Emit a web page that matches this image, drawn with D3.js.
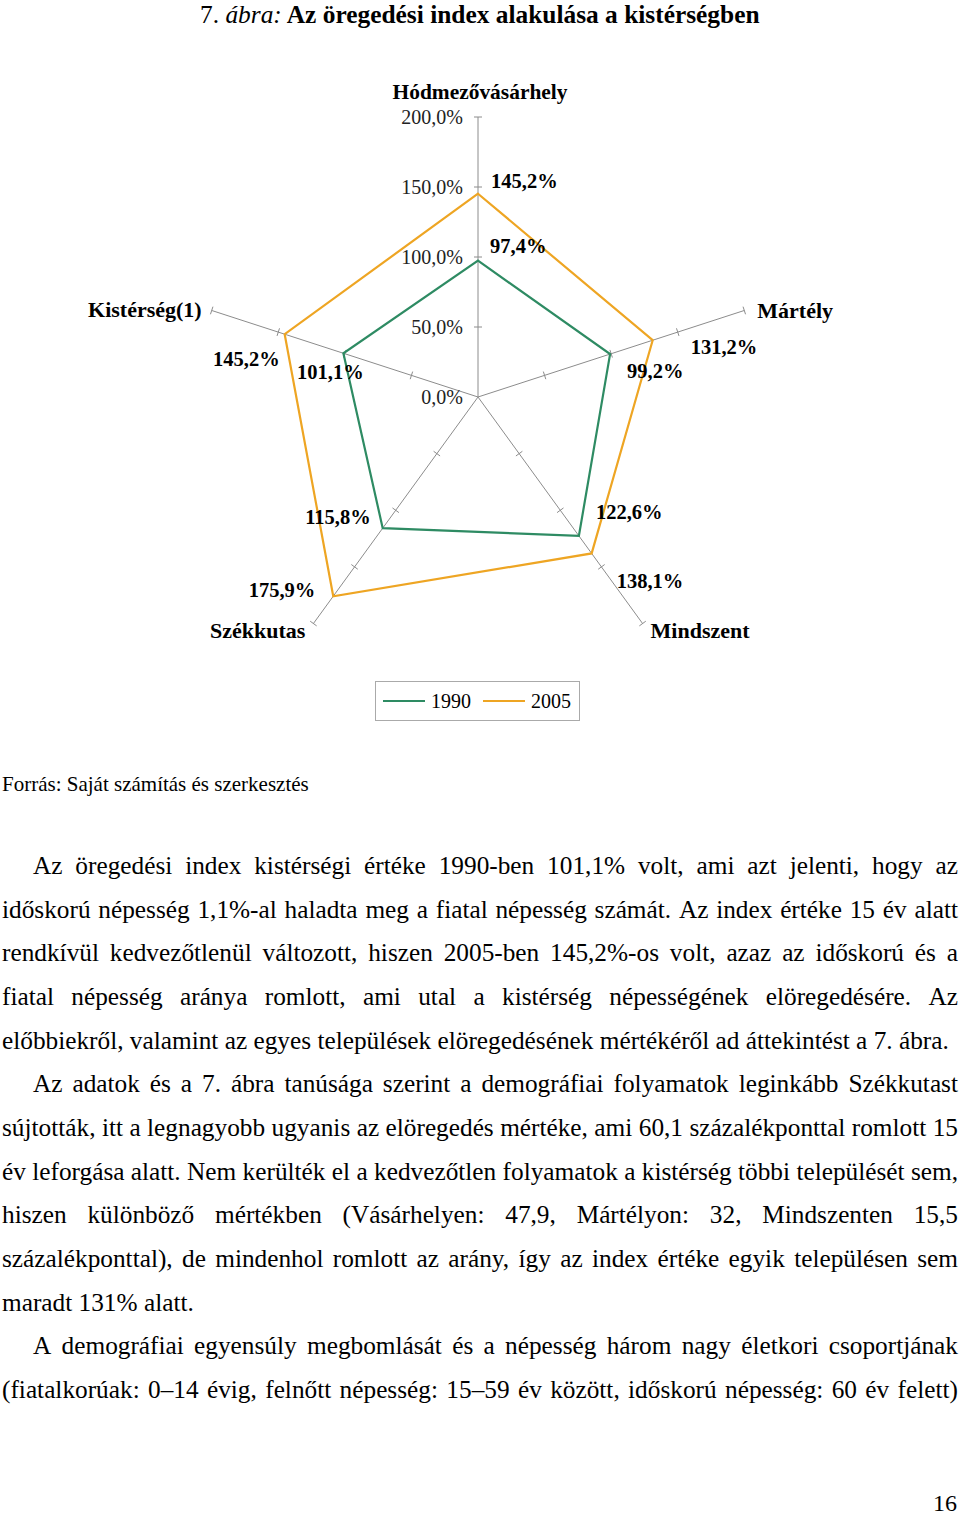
<!DOCTYPE html>
<html><head><meta charset="utf-8">
<script src="https://cdn.jsdelivr.net/npm/d3@7"></script>
<style>body{margin:0;background:#fff}svg{display:block}text{font-family:"Liberation Serif","Times New Roman",serif}</style>
</head><body>
<script>
const categories = ["Hódmezővásárhely","Mártély","Mindszent","Székkutas","Kistérség(1)"];
const series1990 = [97.4, 99.2, 122.6, 115.8, 101.1];
const series2005 = [145.2, 131.2, 138.1, 175.9, 145.2];
const seriesNames = ["1990","2005"];
const tickValues = [0,50,100,150,200];
const tickLabels = ["0,0%","50,0%","100,0%","150,0%","200,0%"];
const valueLabels1990 = ["97,4%","99,2%","122,6%","115,8%","101,1%"];
const valueLabels2005 = ["145,2%","131,2%","138,1%","175,9%","145,2%"];

const paragraphs = [
 {indent:true, lines:[
  "Az öregedési index kistérségi értéke 1990-ben 101,1% volt, ami azt jelenti, hogy az",
  "időskorú népesség 1,1%-al haladta meg a fiatal népesség számát. Az index értéke 15 év alatt",
  "rendkívül kedvezőtlenül változott, hiszen 2005-ben 145,2%-os volt, azaz az időskorú és a",
  "fiatal népesség aránya romlott, ami utal a kistérség népességének elöregedésére. Az",
  "előbbiekről, valamint az egyes települések elöregedésének mértékéről ad áttekintést a 7. ábra."], last:"left"},
 {indent:true, lines:[
  "Az adatok és a 7. ábra tanúsága szerint a demográfiai folyamatok leginkább Székkutast",
  "sújtották, itt a legnagyobb ugyanis az elöregedés mértéke, ami 60,1 százalékponttal romlott 15",
  "év leforgása alatt. Nem kerülték el a kedvezőtlen folyamatok a kistérség többi települését sem,",
  "hiszen különböző mértékben (Vásárhelyen: 47,9, Mártélyon: 32, Mindszenten 15,5",
  "százalékponttal), de mindenhol romlott az arány, így az index értéke egyik településen sem",
  "maradt 131% alatt."], last:"left"},
 {indent:true, lines:[
  "A demográfiai egyensúly megbomlását és a népesség három nagy életkori csoportjának",
  "(fiatalkorúak: 0–14 évig, felnőtt népesség: 15–59 év között, időskorú népesség: 60 év felett)"], last:"justify"}
];

const W = 960, H = 1515;
const svg = d3.select("body").append("svg").attr("width",W).attr("height",H);
svg.append("rect").attr("width",W).attr("height",H).attr("fill","#fff");

// Title
const title = svg.append("text").attr("x",200).attr("y",23).attr("font-size",25.4);
title.append("tspan").text("7. ");
title.append("tspan").attr("font-style","italic").text("ábra:");
title.append("tspan").attr("font-weight","bold").text(" Az öregedési index alakulása a kistérségben");

// Radar
const cx = 478, cy = 397;
const r = d3.scaleLinear().domain([0,200]).range([0,280]);
const angle = d3.scaleLinear().domain([0,categories.length]).range([0,2*Math.PI]);
const pt = (i,v) => [cx + r(v)*Math.sin(angle(i)), cy - r(v)*Math.cos(angle(i))];
const g = svg.append("g");
const axisColor = "#8c8c8c";

categories.forEach((c,i)=>{
  const [x2,y2] = pt(i,200);
  g.append("line").attr("x1",cx).attr("y1",cy).attr("x2",x2).attr("y2",y2)
    .attr("stroke",axisColor).attr("stroke-width",1);
  const a = angle(i);
  const px = Math.cos(a), py = Math.sin(a);
  tickValues.filter(t=>t>0).forEach(t=>{
    const [tx,ty] = pt(i,t);
    g.append("line").attr("x1",tx-4*px).attr("y1",ty-4*py).attr("x2",tx+4*px).attr("y2",ty+4*py)
      .attr("stroke",axisColor).attr("stroke-width",1);
  });
});
// tick labels along the first axis
tickValues.forEach((t,k)=>{
  const [tx,ty] = pt(0,t);
  g.append("text").attr("x",tx-15).attr("y",ty+7).attr("text-anchor","end")
   .attr("font-size",20).attr("fill","#222").text(tickLabels[k]);
});

const colors = {"1990":"#2e8b63","2005":"#eea523"};
const line = d3.line();
[[series1990,"1990"],[series2005,"2005"]].forEach(([vals,name])=>{
  const pts = vals.map((v,i)=>pt(i,v));
  g.append("path").attr("d", line(pts)+"Z").attr("fill","none")
   .attr("stroke",colors[name]).attr("stroke-width",2.2).attr("stroke-linejoin","miter");
});

// value labels (offset from points)
const off1990 = [[12,-8,"start"],[17,24,"start"],[17,-17,"start"],[-12,-4,"end"],[-13,26,"middle"]];
const off2005 = [[13,-6,"start"],[38,14,"start"],[25,35,"start"],[-18,1,"end"],[-5,32,"end"]];
[[series1990,valueLabels1990,off1990],[series2005,valueLabels2005,off2005]].forEach(([vals,labs,offs])=>{
  vals.forEach((v,i)=>{
    const [x,y] = pt(i,v);
    g.append("text").attr("x",x+offs[i][0]).attr("y",y+offs[i][1]).attr("text-anchor",offs[i][2])
      .attr("font-size",20.5).attr("font-weight","bold").text(labs[i]);
  });
});

// category labels
const catOff = [[2,-18,"middle"],[13,8,"start"],[8,14,"start"],[-8,14,"end"],[-10,7,"end"]];
categories.forEach((c,i)=>{
  const [x,y] = pt(i,200);
  const t = g.append("text").attr("x",x+catOff[i][0]).attr("y",y+catOff[i][1]).attr("text-anchor",catOff[i][2])
    .attr("font-size",22).attr("font-weight","bold").text(c);
  if(i===0) t.attr("textLength",175).attr("lengthAdjust","spacingAndGlyphs");
});

// Legend
const lg = svg.append("g");
lg.append("rect").attr("x",375.5).attr("y",681.5).attr("width",204).attr("height",39)
  .attr("fill","#fff").attr("stroke","#aaa").attr("stroke-width",1);
const legX = [383,483];
seriesNames.forEach((n,k)=>{
  lg.append("line").attr("x1",legX[k]).attr("x2",legX[k]+42).attr("y1",701).attr("y2",701)
    .attr("stroke",colors[n]).attr("stroke-width",2.2);
  lg.append("text").attr("x",legX[k]+48).attr("y",708).attr("font-size",20).text(n);
});

// Source
svg.append("text").attr("x",2).attr("y",791).attr("font-size",21).text("Forrás: Saját számítás és szerkesztés");

// Body text, justified
const fs = 25.3, lh = 43.67, left = 2, right = 958, indent = 31;
let lineIdx = 0;
const y0 = 874;
paragraphs.forEach(p=>{
  p.lines.forEach((ln,k)=>{
    const y = y0 + lineIdx*lh;
    const x0 = (k===0 && p.indent) ? left+indent : left;
    const isLast = k===p.lines.length-1 && p.last==="left";
    const words = ln.split(" ");
    if(isLast){
      svg.append("text").attr("x",x0).attr("y",y).attr("font-size",fs).text(ln);
    } else {
      const nodes = words.map(w=>svg.append("text").attr("y",y).attr("font-size",fs).text(w));
      const widths = nodes.map(n=>n.node().getComputedTextLength());
      const total = d3.sum(widths);
      const gap = (right - x0 - total)/(words.length-1);
      let x = x0;
      nodes.forEach((n,j)=>{ n.attr("x",x); x += widths[j]+gap; });
    }
    lineIdx++;
  });
});

// page number
svg.append("text").attr("x",957).attr("y",1511).attr("text-anchor","end").attr("font-size",24).text("16");
</script>
</body></html>
